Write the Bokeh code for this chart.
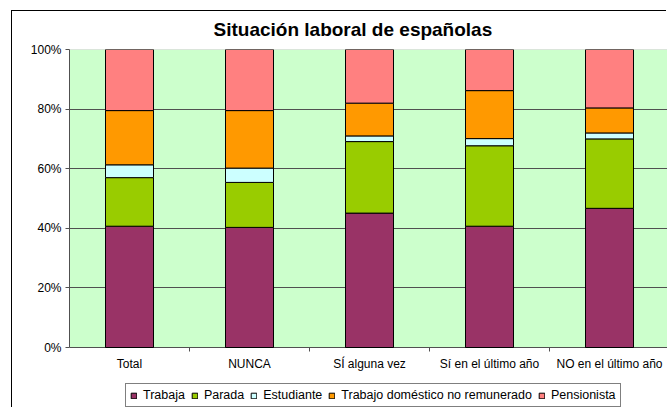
from bokeh.plotting import figure
from bokeh.models import (Range1d, FixedTicker, PrintfTickFormatter, Legend, LegendItem,
                          ColumnDataSource, InlineStyleSheet, BoxAnnotation)
from bokeh.core.properties import value
from bokeh.embed import file_html
from bokeh.resources import INLINE

categories = ["Total", "NUNCA", "SÍ alguna vez", "Sí en el último año", "NO en el último año"]
series = ["Trabaja", "Parada", "Estudiante", "Trabajo doméstico no remunerado", "Pensionista"]
trabaja = [40.7, 40.3, 45.1, 40.7, 46.7]
parada = [16.3, 15.1, 24.0, 27.0, 23.3]
estudiante = [4.3, 4.8, 1.9, 2.4, 2.0]
domestico = [18.2, 19.3, 11.0, 16.1, 8.4]
pensionista = [20.5, 20.5, 18.0, 13.8, 19.6]
y_ticks = [0, 20, 40, 60, 80, 100]
colors = ["#993366", "#99CC00", "#CCFFFF", "#FF9900", "#FF8080"]

# layout constants (pixels)
W, H = 667, 408
LEFT, TOP = 69, 49
AREA_H = 298          # pixel height of 0%..100%
CAT_PX = 120          # pixel width of one category
FRAME_H = H - TOP
PX_PER_UNIT = AREA_H / 100.0
FONT = "Liberation Sans"
GRID = "#505050"

n = len(categories)
xs = [i + 0.5 for i in range(n)]
bounds = [float(i) for i in range(1, n)]
src = ColumnDataSource(dict(x=xs, **{series[0]: trabaja, series[1]: parada, series[2]: estudiante,
                                      series[3]: domestico, series[4]: pensionista}))

p = figure(width=W, height=H, output_backend="svg", toolbar_location=None,
           x_axis_location=None,
           x_range=Range1d(0, (W - LEFT) / CAT_PX),
           y_range=Range1d(-(FRAME_H - AREA_H) / PX_PER_UNIT, 100),
           min_border_left=LEFT, min_border_right=0, min_border_top=TOP, min_border_bottom=0,
           background_fill_color="white", border_fill_color="white",
           outline_line_color=None)

# plot area
p.add_layout(BoxAnnotation(left=0, bottom=0, top=100, fill_color="#CCFFCC", fill_alpha=1,
                           line_color=GRID, line_width=1, level="image"))

renderers = p.vbar_stack(series, x="x", width=0.4, source=src, fill_color=colors,
                         line_color="black", line_width=1)

# category axis (labels and tick marks between categories)
p.segment(x0=bounds, y0=[0] * len(bounds), x1=bounds, y1=[-4 / PX_PER_UNIT] * len(bounds),
          line_color=GRID, line_width=1)
p.text(x=xs, y=[0] * n, text=categories, y_offset=16, text_align="center",
       text_baseline="middle", text_font=value(FONT), text_font_size="12px", text_color="black")

# title
p.title.text = "Situación laboral de españolas"
p.title.text_font = FONT
p.title.text_font_size = "19px"
p.title.text_font_style = "bold"
p.title.text_color = "black"
p.title.align = "left"
p.title.offset = 144
p.title.standoff = 19

p.yaxis.ticker = FixedTicker(ticks=y_ticks)
p.yaxis.bounds = (0, 100)
p.yaxis.formatter = PrintfTickFormatter(format="%d%%")
p.yaxis.major_tick_out = 4
p.yaxis.major_tick_in = 0
p.yaxis.minor_tick_line_color = None
p.yaxis.major_tick_line_color = GRID
p.yaxis.axis_line_color = GRID
p.yaxis.major_label_standoff = 4
p.yaxis.major_label_text_font = FONT
p.yaxis.major_label_text_font_size = "12px"
p.yaxis.major_label_text_color = "black"

p.xgrid.grid_line_color = None
p.ygrid.grid_line_color = GRID
p.ygrid.grid_line_width = 1

legend = Legend(items=[LegendItem(label=s, renderers=[r]) for s, r in zip(series, renderers)],
                orientation="horizontal", location=(56, 1),
                glyph_width=7, glyph_height=7, label_standoff=6, spacing=6, padding=4,
                label_height=14, label_text_font=FONT, label_text_font_size="12.5px",
                label_text_color="black",
                border_line_color="black", border_line_width=1, background_fill_color="white",
                background_fill_alpha=1)
p.add_layout(legend, "center")

p.stylesheets = [InlineStyleSheet(css=(
    ":host::after { content: ''; position: absolute; left: 11px; top: 10px; "
    "right: 0; bottom: 0; border: 1px solid black; pointer-events: none; "
    "clip-path: inset(0 1px 1px 0); }"))]

open("out.html", "w").write(file_html(p, INLINE))
